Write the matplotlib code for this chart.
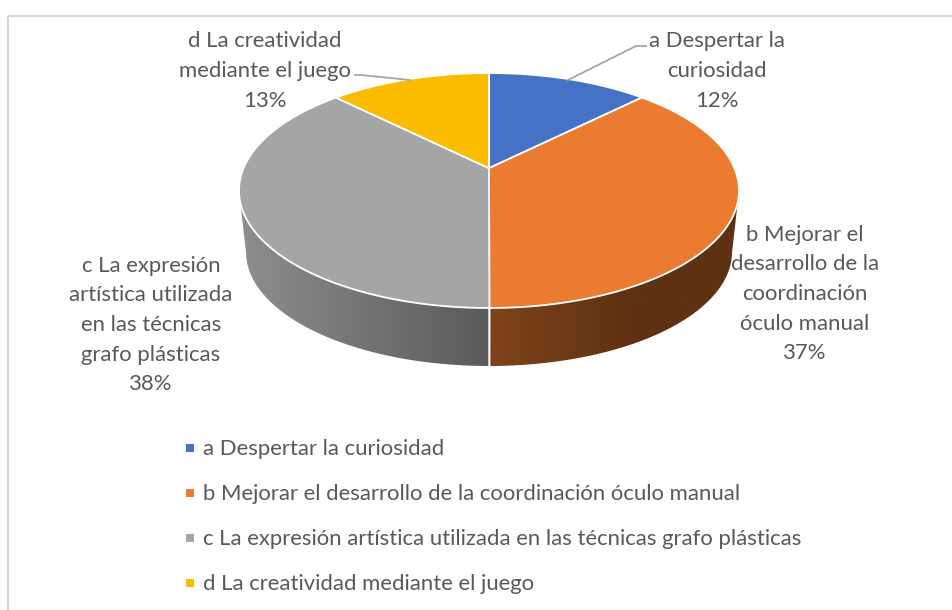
# 3D looking pie, drawn in pixel coords of the original picture
import numpy as np
import matplotlib
matplotlib.use("Agg")
import matplotlib.pyplot as plt
from matplotlib.patches import Polygon, Rectangle

plt.rcParams["font.family"] = ["Lato", "DejaVu Sans"]

names = ["a Despertar la curiosidad",
         "b Mejorar el desarrollo de la coordinación óculo manual",
         "c La expresión artística utilizada en las técnicas grafo plásticas",
         "d La creatividad mediante el juego"]
values = [12.49, 37.49, 37.51, 12.51]
wrapped = ["a Despertar la\ncuriosidad",
           "b Mejorar el\ndesarrollo de la\ncoordinación\nóculo manual",
           "c La expresión\nartística utilizada\nen las técnicas\ngrafo plásticas",
           "d La creatividad\nmediante el juego"]
colors = ["#4472C4", "#EB7B30", "#A5A5A5", "#FBBC00"]
side_left = ["#2A4A80", "#7F431A", "#8E8E8E", "#A67C00"]
side_right = ["#2A4A80", "#5E3112", "#5A5A5A", "#A67C00"]
label_pos = [(717, 71), (805, 294), (151, 325), (265, 71)]
txt = "#595959"

# ellipses of the top and bottom rim
cx, top_cy, top_rx, top_ry = 489, 190.5, 250, 117.5
bot_cy, bot_rx, bot_ry = 252, 243, 114
e = 0.19  # perspective shift of the pie centre

def project(theta):
    x = np.sin(theta)
    y = np.cos(theta)
    return x * np.sqrt(1 - e**2) / (1 + e * y), (y + e) / (1 + e * y)

fig = plt.figure(figsize=(9.53, 6.10), dpi=100)
ax = fig.add_axes([0, 0, 1, 1])

# chart frame
ax.plot([8.5, 8.5, 953], [610, 15.5, 15.5], color="#D9D9D9", lw=1.5)

fr = np.array(values) / sum(values)
edges = np.concatenate([[0], np.cumsum(fr)]) * 2 * np.pi

# sides first
for i in range(len(values)):
    th = np.linspace(edges[i], edges[i + 1], 300)
    ux, uy = project(th)
    low = uy <= 0
    if low.sum() < 2:
        continue
    ux, uy = ux[low], uy[low]
    top = np.column_stack([cx + top_rx * ux, top_cy - top_ry * uy])
    bot = np.column_stack([cx + bot_rx * ux, bot_cy - bot_ry * uy])
    pts = np.vstack([top, bot[::-1]])
    x0, x1 = pts[:, 0].min(), pts[:, 0].max()
    c0 = np.array(matplotlib.colors.to_rgb(side_left[i]))
    c1 = np.array(matplotlib.colors.to_rgb(side_right[i]))
    n = 200
    s = np.linspace(0, 1, n)[:, None]
    if i == 1:
        s = np.minimum(s * 1.7, 1)  # orange side goes flat after a while
    grad = (c0 * (1 - s) + c1 * s)[None, :, :]
    im = ax.imshow(grad, extent=[x0, x1, pts[:, 1].max(), pts[:, 1].min()],
                   aspect="auto", zorder=2, interpolation="bilinear")
    poly = Polygon(pts, closed=True, transform=ax.transData, fc="none", ec="none")
    ax.add_patch(poly)
    im.set_clip_path(poly)

# white line on the front edge where slices meet
for ed in edges[1:-1]:
    ux, uy = project(ed)
    if uy <= 0:
        ax.plot([cx + top_rx * ux, cx + bot_rx * ux],
                [top_cy - top_ry * uy, bot_cy - bot_ry * uy],
                color="white", lw=1.5, zorder=3)

# top face
apex = (cx, top_cy - top_ry * e)
for i in range(len(values)):
    th = np.linspace(edges[i], edges[i + 1], 300)
    ux, uy = project(th)
    rim = np.column_stack([cx + top_rx * ux, top_cy - top_ry * uy])
    p = Polygon(np.vstack([[apex], rim]), closed=True, fc=colors[i],
                ec="white", lw=1.3, zorder=4, joinstyle="round")
    ax.add_patch(p)

# leader lines
ax.plot([568, 636, 646], [80, 46, 46], color="#A6A6A6", lw=1.3, zorder=5)
ax.plot([410, 361, 355], [80, 75, 75], color="#A6A6A6", lw=1.3, zorder=5)

# data labels
for i in range(len(values)):
    ax.text(label_pos[i][0], label_pos[i][1],
            "%s\n%d%%" % (wrapped[i], round(values[i])),
            ha="center", va="center", ma="center", fontsize=15.95,
            linespacing=1.6, color=txt, zorder=6)

# legend
for i in range(len(names)):
    y = 448 + i * 45
    ax.add_patch(Rectangle((186, y - 4), 8, 8, fc=colors[i], ec="none"))
    ax.text(203, y + 1, names[i], ha="left", va="center", fontsize=15.95, color=txt)

ax.set_xlim(0, 953)
ax.set_ylim(610, 0)
ax.axis("off")
fig.savefig("out.png", dpi=100, facecolor="white")
